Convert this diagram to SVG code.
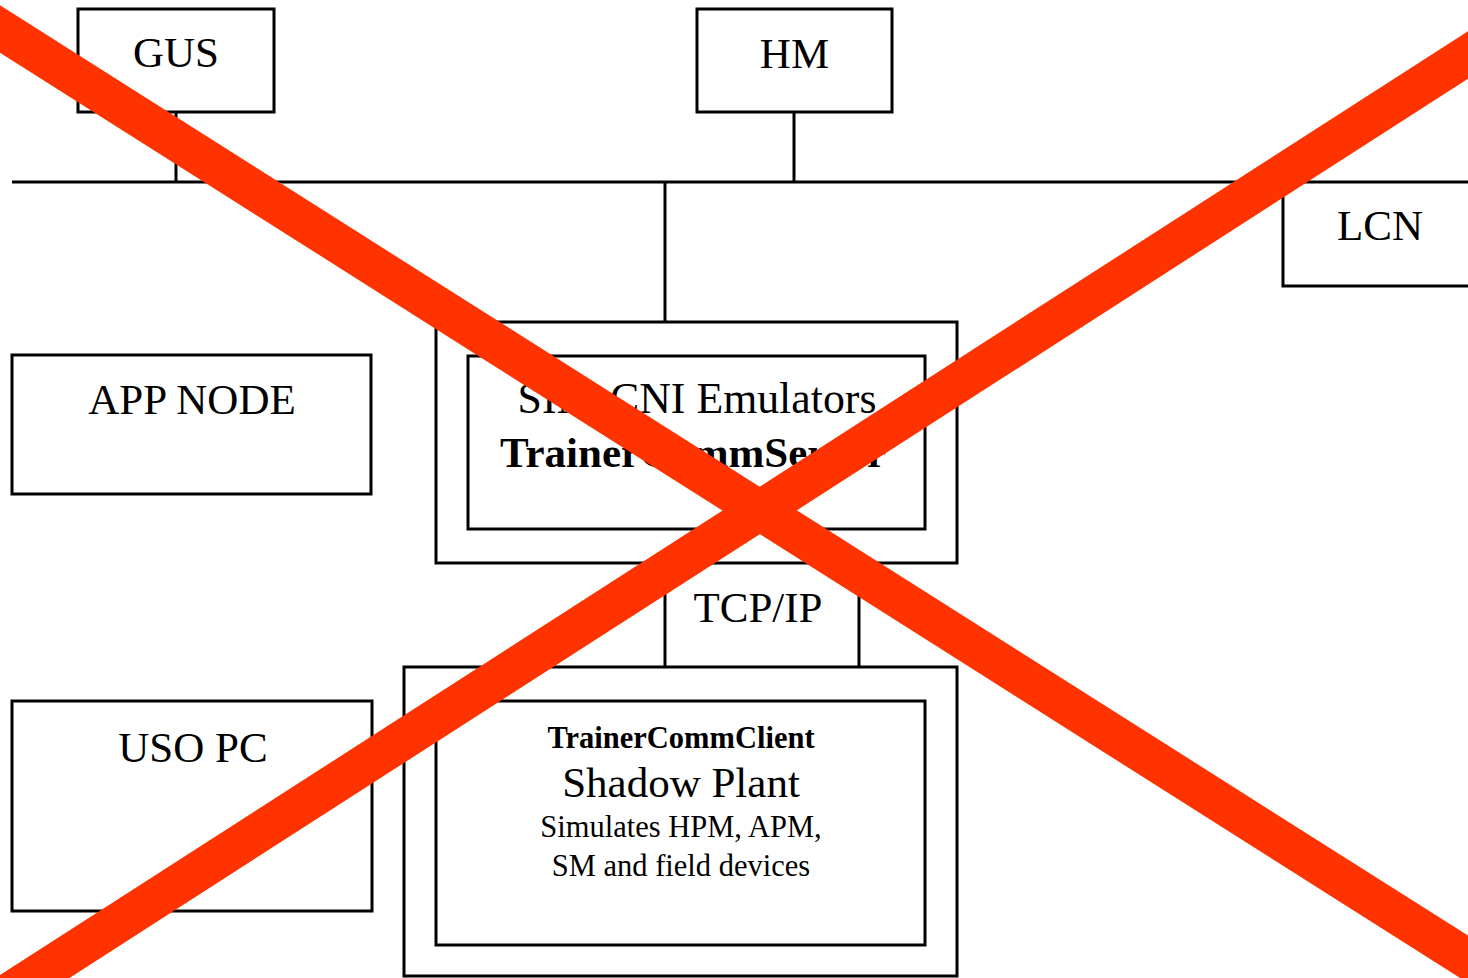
<svg xmlns="http://www.w3.org/2000/svg" width="1468" height="978" viewBox="0 0 1468 978">
<style>
.box{fill:#fff;stroke:#000;stroke-width:3}
.ln{fill:none;stroke:#000;stroke-width:3}
text{font-family:"Liberation Serif","Times New Roman",serif;fill:#000;text-anchor:middle}
.lg{font-size:43px}
.lb{font-size:43px;font-weight:bold}
.sm{font-size:30.5px}
.smb{font-size:30.5px;font-weight:bold}
.x{stroke:#ff3300;stroke-width:40;fill:none}
</style>
<rect width="1468" height="978" fill="#fff"/>
<g id="connectors">
<line class="ln" x1="12" y1="182" x2="1470" y2="182"/>
<line class="ln" x1="176" y1="112" x2="176" y2="182"/>
<line class="ln" x1="794" y1="112" x2="794" y2="182"/>
<line class="ln" x1="665" y1="182" x2="665" y2="322"/>
</g>
<g id="gus">
<rect class="box" x="78" y="9" width="196" height="103"/>
<text class="lg" x="176" y="67">GUS</text>
</g>
<g id="hm">
<rect class="box" x="697" y="9" width="195" height="103"/>
<text class="lg" x="794.5" y="68">HM</text>
</g>
<g id="lcn">
<path class="ln" d="M1283,182 V286 H1470"/>
<text class="lg" x="1380" y="240">LCN</text>
</g>
<g id="app-node">
<rect class="box" x="12" y="355" width="359" height="139"/>
<text class="lg" x="192" y="414">APP NODE</text>
</g>
<g id="server">
<rect class="box" x="436" y="322" width="521" height="241"/>
<rect class="box" x="468" y="356" width="457" height="173"/>
<text class="lg" x="697" y="413" style="font-size:43.8px">SIM-CNI Emulators</text>
<text class="lb" x="693" y="467">TrainerCommServer</text>
</g>
<g id="tcpip">
<line class="ln" x1="665" y1="563" x2="665" y2="667"/>
<line class="ln" x1="859" y1="563" x2="859" y2="667"/>
<text class="lg" x="758" y="622">TCP/IP</text>
</g>
<g id="client">
<rect class="box" x="404" y="667" width="553" height="309"/>
<rect class="box" x="436" y="701" width="489" height="244"/>
<text class="smb" x="681" y="748">TrainerCommClient</text>
<text class="lg" x="681" y="797">Shadow Plant</text>
<text class="sm" x="681" y="837">Simulates HPM, APM,</text>
<text class="sm" x="681" y="876">SM and field devices</text>
</g>
<g id="uso-pc">
<rect class="box" x="12" y="701" width="360" height="210"/>
<text class="lg" x="193" y="762">USO PC</text>
</g>
<g id="cross">
<line class="x" x1="-40" y1="3.7" x2="1510" y2="985.9"/>
<line class="x" x1="-40" y1="1024.6" x2="1510" y2="28"/>
</g>
</svg>
